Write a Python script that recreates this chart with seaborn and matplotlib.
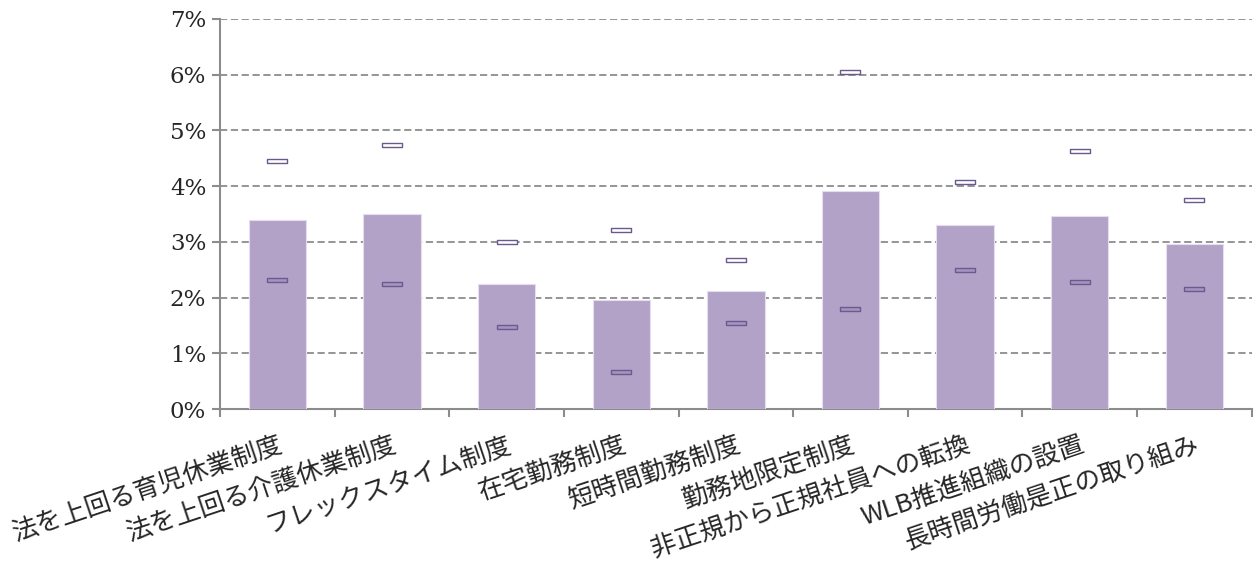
import matplotlib
matplotlib.use("Agg")
import matplotlib.pyplot as plt
import seaborn as sns
import pandas as pd
from matplotlib.ticker import FuncFormatter, MultipleLocator

categories = [
    "法を上回る育児休業制度",
    "法を上回る介護休業制度",
    "フレックスタイム制度",
    "在宅勤務制度",
    "短時間勤務制度",
    "勤務地限定制度",
    "非正規から正規社員への転換",
    "WLB推進組織の設置",
    "長時間労働是正の取り組み",
]
rate = [3.39, 3.50, 2.24, 1.96, 2.12, 3.91, 3.30, 3.46, 2.96]
upper = [4.46, 4.74, 2.99, 3.22, 2.68, 6.04, 4.08, 4.63, 3.75]
lower = [2.32, 2.24, 1.48, 0.67, 1.55, 1.79, 2.50, 2.28, 2.16]

df = pd.DataFrame({"category": categories, "rate": rate,
                   "upper": upper, "lower": lower})

sns.set_theme(style="white")
plt.rcParams["font.family"] = ["Noto Sans CJK JP", "DejaVu Sans"]

fig = plt.figure(figsize=(12.58, 5.62), dpi=100)
ax = fig.add_axes([0.1749, 0.2722, 0.8201, 0.694])

bar_color = "#b3a2c7"
edge_color = "#6b5a8e"

sns.barplot(data=df, x="category", y="rate", color=bar_color, width=0.5,
            edgecolor="#e6def0", linewidth=0.8, saturation=1, ax=ax, zorder=3)

# bounds drawn as small flat boxes
box = [(-1, -0.22), (1, -0.22), (1, 0.22), (-1, 0.22), (-1, -0.22)]
ax.plot(range(len(categories)), df["upper"], linestyle="none", marker=box,
        markersize=14, markerfacecolor="white", markeredgecolor=edge_color,
        markeredgewidth=1.0, zorder=5)
ax.plot(range(len(categories)), df["lower"], linestyle="none", marker=box,
        markersize=14, markerfacecolor="#a593c0", markeredgecolor=edge_color,
        markeredgewidth=1.0, zorder=5)

ax.set_ylim(0, 7)
ax.set_xlim(-0.5, len(categories) - 0.5)
ax.yaxis.set_major_locator(MultipleLocator(1))
ax.yaxis.set_major_formatter(FuncFormatter(lambda v, p: f"{v:.0f}%"))
ax.grid(axis="y", color="#8c8c8c", linestyle=(0, (4, 2)), linewidth=1.3, zorder=0)
ax.grid(axis="x", visible=False)
ax.set_axisbelow(True)

for side in ["top", "right"]:
    ax.spines[side].set_visible(False)
for side in ["left", "bottom"]:
    ax.spines[side].set_color("#8c8c8c")
    ax.spines[side].set_linewidth(1.5)

ax.set_xlabel("")
ax.set_ylabel("")

# category boundary ticks on the x axis
ax.set_xticks([i - 0.5 for i in range(len(categories) + 1)], minor=False)
ax.set_xticklabels([])
ax.set_xticks(range(len(categories)), minor=True)
ax.set_xticklabels(categories, minor=True, rotation=18.5, ha="right",
                   rotation_mode="anchor", fontsize=18.5)
ax.tick_params(axis="x", which="major", length=6, width=1.5, color="#8c8c8c",
               direction="out", bottom=True)
ax.tick_params(axis="x", which="minor", length=0, pad=17)
ax.tick_params(axis="y", length=6, width=1.5, color="#8c8c8c", direction="out",
               left=True, labelsize=16.5, pad=4)
for lbl in ax.get_yticklabels():
    lbl.set_family(["DejaVu Serif"])

fig.savefig("out.png", dpi=100, facecolor="white")
